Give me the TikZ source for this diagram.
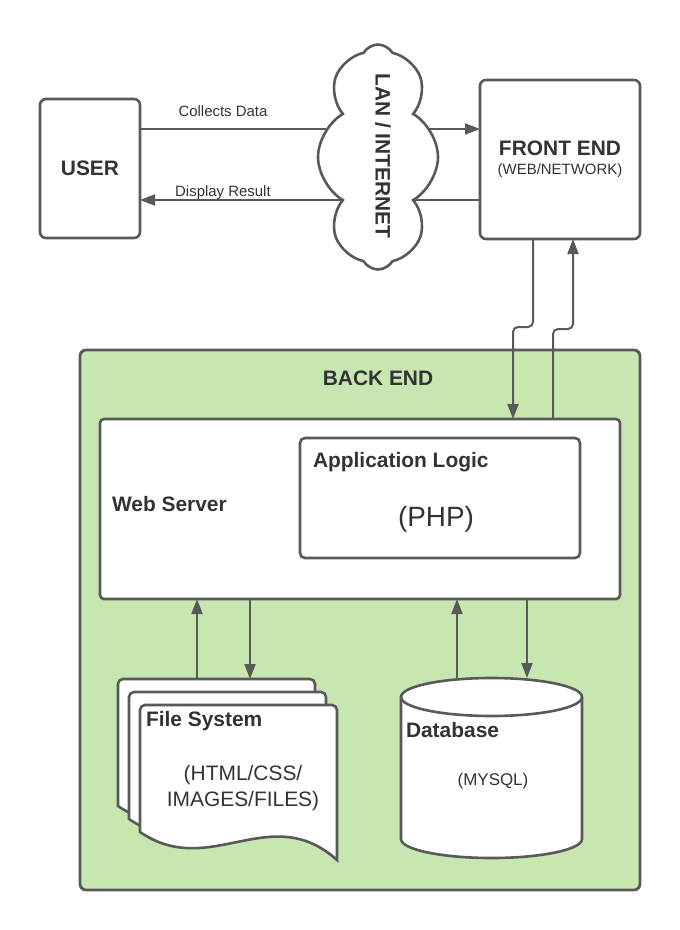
\documentclass[tikz,border=0pt]{standalone}
\usepackage{fontspec}
\setmainfont{Liberation Sans}
\usetikzlibrary{arrows.meta,shapes.symbols}
\definecolor{linegray}{RGB}{89,89,89}
\definecolor{backgreen}{RGB}{199,230,176}
\definecolor{txtgray}{RGB}{51,51,51}
\tikzset{
  box/.style={draw=linegray, line width=2.6bp, fill=white, rounded corners=5bp, inner sep=0pt, outer sep=0pt},
  spot/.style={inner sep=0pt, outer sep=0pt},
  flow/.style={draw=linegray, line width=2bp, -{Triangle[length=15bp, width=11bp]}},
  head/.style={font=\fontsize{21}{25}\selectfont\bfseries, text=txtgray},
  plain/.style={font=\fontsize{15}{18}\selectfont, text=txtgray},
  page/.style={draw=linegray, fill=white, line width=2.6bp}
}
\begin{document}
\begin{tikzpicture}[x=1bp, y=-1bp]
    \useasboundingbox (0,0) rectangle (680,930);

    \node[box, fill=backgreen, line width=2.8bp, rounded corners=6bp, minimum width=560bp, minimum height=540bp] (back) at (360,620) {};
    \node[head, spot] (backlbl) at (378,378) {BACK END};

    \node[box, rounded corners=4bp, minimum width=520bp, minimum height=180bp] (web) at (360,509) {};
    \node[head, spot, anchor=west] (webtxt) at (112,504) {Web Server};

    \node[box, minimum width=280bp, minimum height=120bp] (app) at (440,498) {};
    \node[head, spot, anchor=west] (apptxt) at (313,462) {Application Logic};
    \node[spot, font=\fontsize{28}{32}\selectfont, text=txtgray] (php) at (436,519) {(PHP)};

    \node[spot, minimum width=197bp, minimum height=155bp, anchor=north west] (files) at (118,679) {};
    \foreach \dx/\dy in {0/0, 11/13, 22/26}
        \draw[page, shift={(files.north west)}, shift={(\dx,\dy)}] (197,155) .. controls (130,95) and (70,175) .. (0,127) [rounded corners=5bp] -- (0,0) -- (197,0) [sharp corners] -- cycle;
    \node[head, spot, anchor=west] (fstxt) at (146,721) {File System};
    \node[spot, align=center, font=\fontsize{21}{26}\selectfont, text=txtgray] (fsdet) at (243,788) {(HTML/CSS/\\IMAGES/FILES)};

    \node[spot, minimum width=181bp, minimum height=180bp] (db) at (491.5,768) {};
    \draw[page] ([yshift=-19bp]db.north west) -- ([yshift=19bp]db.south west) arc[start angle=180, end angle=360, x radius=90.5bp, y radius=19bp] -- ([yshift=-19bp]db.north east) arc[start angle=0, end angle=180, x radius=90.5bp, y radius=19bp] -- cycle;
    \draw[page, fill=none] ([yshift=-19bp]db.north west) arc[start angle=180, end angle=360, x radius=90.5bp, y radius=19bp];
    \node[head, spot, anchor=west] (dbtxt) at (406,730) {Database};
    \node[spot, font=\fontsize{17}{20}\selectfont, text=txtgray] (dbdet) at (493,781) {(MYSQL)};

    \coordinate (fsup) at ([xshift=-163bp]web.south);
    \coordinate (fsdn) at ([xshift=-110bp]web.south);
    \coordinate (dbup) at ([xshift=97bp]web.south);
    \coordinate (dbdn) at ([xshift=167bp]web.south);
    \draw[flow] (fsup |- files.north) -- (fsup);
    \draw[flow] (fsdn) -- (fsdn |- files.north);
    \draw[flow] (dbup |- db.north) -- (dbup);
    \draw[flow] (dbdn) -- (dbdn |- db.north);

    \node[box, head, rounded corners=6bp, minimum width=100bp, minimum height=139bp] (user) at (90,168.5) {USER};
    \node[box, rounded corners=6bp, minimum width=160bp, minimum height=159bp] (front) at (560,159.5) {};
    \node[head, spot] (fronttxt) at (560,148) {FRONT END};
    \node[plain, spot] (frontsub) at (560,171) {(WEB/NETWORK)};

    \coordinate (cd) at ([yshift=39.5bp]user.east);
    \coordinate (dr) at ([yshift=-31.5bp]user.east);
    \draw[flow] (cd) -- node[plain, spot, above=12bp, pos=0.244] (cdlbl) {Collects Data} (cd -| front.west);
    \draw[flow] (dr -| front.west) -- node[plain, spot, above=0bp, pos=0.756] (drlbl) {Display Result} (dr);

    \node[cloud, draw=linegray, fill=white, line width=2.6bp, cloud puffs=8, cloud puff arc=120, aspect=0.5, minimum width=120bp, minimum height=225bp] (net) at (378,157) {};
    \node[head, spot, rotate=-90] (nettxt) at (383,156) {LAN / INTERNET};

    \draw[flow, rounded corners=5bp] ([xshift=-27bp]front.south) -- ++(0,88) -- ++(-20,0) -- ([xshift=153bp]web.north);
    \draw[flow, rounded corners=5bp] ([xshift=193bp]web.north) -- ++(0,-90) -- ++(20,0) -- ([xshift=13bp]front.south);
\end{tikzpicture}
\end{document}
